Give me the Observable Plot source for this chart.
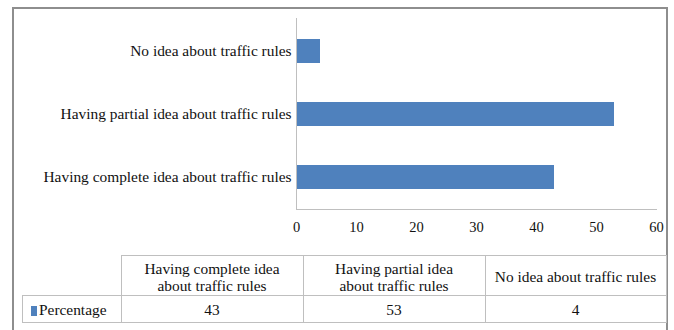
<!DOCTYPE html>
<html>
<head>
<meta charset="utf-8">
<script src="https://cdn.jsdelivr.net/npm/d3@7"></script>
<script src="https://cdn.jsdelivr.net/npm/@observablehq/plot@0.6"></script>
<style>
  html, body { margin: 0; padding: 0; background: #fff; }
  #wrap { position: relative; width: 674px; height: 330px; overflow: hidden; background: #fff;
          font-family: 'Liberation Serif', 'Times New Roman', serif; color: #000; }
  #border { position: absolute; left: 12px; top: 7px; width: 652px; height: 340px; border: 2px solid #8e8e8e; }
  #chart { position: absolute; left: 0; top: 0; }
  #tbl { position: absolute; left: 22px; top: 255px; border-collapse: collapse; font-size: 15.4px; line-height: 17px;
         font-family: 'Liberation Serif', 'Times New Roman', serif; color: #111; }
  #tbl td { border: 1px solid #bfbfbf; padding: 0; text-align: center; vertical-align: middle; }
  #tbl td.blank { border: none; }
  #tbl tr.head td { height: 37px; padding-top: 2px; }
  #tbl tr.vals td { height: 26px; }
  #tbl td.series { text-align: left; padding-left: 8px; }
  .sw { display: inline-block; width: 6px; height: 10px; background: #4f81bd; margin-right: 2px; vertical-align: -1px; }
</style>
</head>
<body>
<div id="wrap">
  <div id="border"></div>
  <div id="chart"></div>
  <table id="tbl"></table>
</div>
<script>
// ---- data ----
const categories = [
  "Having complete idea about traffic rules",
  "Having partial idea about traffic rules",
  "No idea about traffic rules"
];
const percentages = [43, 53, 4];
const seriesName = "Percentage";
const tableHeaderLines = [
  ["Having complete idea", "about traffic rules"],
  ["Having partial idea", "about traffic rules"],
  ["No idea about traffic rules"]
];
const xTicks = [0, 10, 20, 30, 40, 50, 60];

const data = categories.map((c, i) => ({category: c, value: percentages[i]}));
const barColor = "#4f81bd";
const lineColor = "#bfbfbf";
const serif = "'Liberation Serif','Times New Roman',serif";

const chart = Plot.plot({
  width: 674,
  height: 330,
  marginLeft: 296,
  marginRight: 18,
  marginTop: 18,
  marginBottom: 121,
  style: {fontFamily: serif, fontSize: "15.4px", color: "#111", background: "transparent"},
  x: {domain: [0, 60], label: null},
  y: {domain: categories.slice().reverse(), paddingInner: 0.62, paddingOuter: 0.31, label: null},
  marks: [
    Plot.barX(data, {x: "value", y: "category", fill: barColor}),
    Plot.ruleX([0], {stroke: lineColor, strokeWidth: 1}),
    Plot.frame({anchor: "bottom", stroke: lineColor, strokeWidth: 1}),
    Plot.axisY({tickSize: 0, tickPadding: 5, fontSize: 15.4, label: null}),
    Plot.axisX({ticks: xTicks, tickSize: 0, tickPadding: 12, fontSize: 14.5, label: null})
  ]
});
document.getElementById("chart").append(chart);

// ---- data table below the chart ----
const tbl = d3.select("#tbl");
const colWidths = [98, 181, 181, 180];
const head = tbl.append("tr").attr("class", "head");
head.append("td").attr("class", "blank").style("width", colWidths[0] + "px");
tableHeaderLines.forEach((lines, i) => {
  head.append("td").style("width", colWidths[i + 1] + "px").html(lines.join("<br>"));
});
const row = tbl.append("tr").attr("class", "vals");
const sc = row.append("td").attr("class", "series");
sc.append("span").attr("class", "sw");
sc.append("span").text(seriesName);
percentages.forEach(v => row.append("td").text(v));
</script>
</body>
</html>
